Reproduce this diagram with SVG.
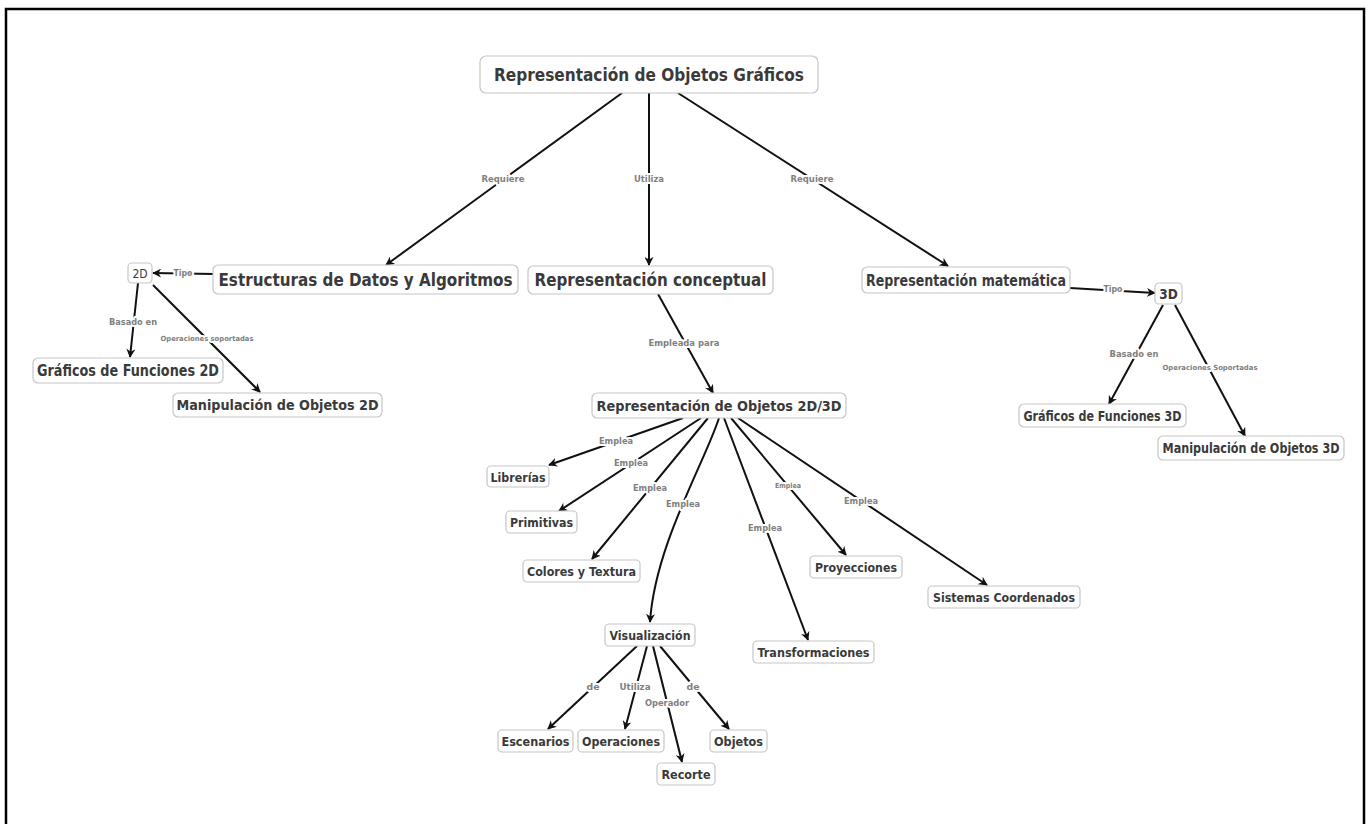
<svg xmlns="http://www.w3.org/2000/svg" width="1366" height="824" viewBox="0 0 1366 824">
<defs>
<marker id="ah" viewBox="0 0 10 10" refX="9" refY="5" markerWidth="9" markerHeight="9" markerUnits="userSpaceOnUse" orient="auto">
<path d="M0,0 L10,5 L0,10 L3,5 Z" fill="#111"/>
</marker>
<style>
.n rect{fill:#fff;stroke:#c6c6c6;stroke-width:1.2}
.n text{font-family:"DejaVu Sans Condensed","DejaVu Sans",Verdana,sans-serif;font-weight:bold;fill:#3a3a3a;text-anchor:middle}
.c path{fill:none;stroke:#111;stroke-width:2;marker-end:url(#ah)}
.l{font-family:"DejaVu Sans Condensed","DejaVu Sans",Verdana,sans-serif;font-weight:bold;fill:#808080;text-anchor:middle;paint-order:stroke;stroke:#fff;stroke-width:4px;stroke-linejoin:round}
</style>
</defs>
<rect x="0" y="0" width="1366" height="824" fill="#fff"/>
<rect x="6" y="9" width="1358" height="840" fill="none" stroke="#000" stroke-width="2.5"/>

<g id="connectors" class="c">
<path d="M622,93 L386,265"/>
<path d="M649,93 L649,265"/>
<path d="M678,93 L948,266"/>
<path d="M214,274 L153,273"/>
<path d="M138,283 L130,357"/>
<path d="M153,285 L260,392"/>
<path d="M658,294 L713,393"/>
<path d="M1070,288 L1155,293"/>
<path d="M1163,305 L1109,404"/>
<path d="M1175,305 L1245,436"/>
<path d="M683,418 L549,465"/>
<path d="M701,418 L559,511"/>
<path d="M708,418 L592,559"/>
<path d="M719,418 C705,462 655,545 650,622"/>
<path d="M724,418 L808,640"/>
<path d="M731,418 L846,555"/>
<path d="M738,418 L987,585"/>
<path d="M637,646 L548,729"/>
<path d="M647,646 L625,729"/>
<path d="M653,646 L682,762"/>
<path d="M660,646 L729,729"/>
</g>
<g id="labels">
<text class="l" x="503" y="182" font-size="9.5" textLength="43" lengthAdjust="spacingAndGlyphs">Requiere</text>
<text class="l" x="649" y="182" font-size="9.5" textLength="30" lengthAdjust="spacingAndGlyphs">Utiliza</text>
<text class="l" x="812" y="182" font-size="9.5" textLength="43" lengthAdjust="spacingAndGlyphs">Requiere</text>
<text class="l" x="183" y="276" font-size="8.5" textLength="19" lengthAdjust="spacingAndGlyphs">Tipo</text>
<text class="l" x="133" y="325" font-size="9.5" textLength="48" lengthAdjust="spacingAndGlyphs">Basado en</text>
<text class="l" x="207" y="341" font-size="7" textLength="93" lengthAdjust="spacingAndGlyphs">Operaciones soportadas</text>
<text class="l" x="684" y="346" font-size="9.5" textLength="71" lengthAdjust="spacingAndGlyphs">Empleada para</text>
<text class="l" x="1113" y="292" font-size="8.5" textLength="19" lengthAdjust="spacingAndGlyphs">Tipo</text>
<text class="l" x="1134" y="357" font-size="9.5" textLength="49" lengthAdjust="spacingAndGlyphs">Basado en</text>
<text class="l" x="1210" y="370" font-size="7" textLength="95" lengthAdjust="spacingAndGlyphs">Operaciones Soportadas</text>
<text class="l" x="616" y="444" font-size="9.5" textLength="34" lengthAdjust="spacingAndGlyphs">Emplea</text>
<text class="l" x="631" y="466" font-size="9.5" textLength="34" lengthAdjust="spacingAndGlyphs">Emplea</text>
<text class="l" x="650" y="491" font-size="9.5" textLength="34" lengthAdjust="spacingAndGlyphs">Emplea</text>
<text class="l" x="683" y="507" font-size="9.5" textLength="34" lengthAdjust="spacingAndGlyphs">Emplea</text>
<text class="l" x="765" y="531" font-size="9.5" textLength="34" lengthAdjust="spacingAndGlyphs">Emplea</text>
<text class="l" x="788" y="488" font-size="7" textLength="26" lengthAdjust="spacingAndGlyphs">Emplea</text>
<text class="l" x="861" y="504" font-size="9.5" textLength="34" lengthAdjust="spacingAndGlyphs">Emplea</text>
<text class="l" x="593" y="690" font-size="9.5" textLength="13" lengthAdjust="spacingAndGlyphs">de</text>
<text class="l" x="635" y="690" font-size="9.5" textLength="31" lengthAdjust="spacingAndGlyphs">Utiliza</text>
<text class="l" x="667" y="706" font-size="9.5" textLength="44" lengthAdjust="spacingAndGlyphs">Operador</text>
<text class="l" x="693" y="690" font-size="9.5" textLength="13" lengthAdjust="spacingAndGlyphs">de</text>
</g>

<g id="n0" class="n"><rect x="480" y="56" width="338" height="37" rx="6"/><text x="649" y="81" font-size="18" textLength="310" lengthAdjust="spacingAndGlyphs">Representación de Objetos Gráficos</text></g>
<g id="n1" class="n"><rect x="213" y="265" width="305" height="29" rx="5"/><text x="365.5" y="285.5" font-size="17.5" textLength="294" lengthAdjust="spacingAndGlyphs">Estructuras de Datos y Algoritmos</text></g>
<g id="n2" class="n"><rect x="528" y="266" width="245" height="28" rx="5"/><text x="650.5" y="286" font-size="17.5" textLength="232" lengthAdjust="spacingAndGlyphs">Representación conceptual</text></g>
<g id="n3" class="n"><rect x="862" y="267" width="208" height="26" rx="5"/><text x="966" y="285.5" font-size="15" textLength="200" lengthAdjust="spacingAndGlyphs">Representación matemática</text></g>
<g id="n4" class="n"><rect x="128" y="263" width="24" height="20" rx="4"/><text x="140" y="277.5" font-size="12" style="font-weight:normal">2D</text></g>
<g id="n5" class="n"><rect x="1155" y="283" width="27" height="21" rx="4"/><text x="1168.5" y="298.5" font-size="13.5">3D</text></g>
<g id="n6" class="n"><rect x="33" y="358" width="190" height="25" rx="5"/><text x="128" y="376" font-size="15" textLength="182" lengthAdjust="spacingAndGlyphs">Gráficos de Funciones 2D</text></g>
<g id="n7" class="n"><rect x="173" y="393" width="209" height="24" rx="5"/><text x="277.5" y="410" font-size="14" textLength="202" lengthAdjust="spacingAndGlyphs">Manipulación de Objetos 2D</text></g>
<g id="n8" class="n"><rect x="1019" y="404" width="167" height="23" rx="5"/><text x="1102.5" y="420.5" font-size="13.5" textLength="158" lengthAdjust="spacingAndGlyphs">Gráficos de Funciones 3D</text></g>
<g id="n9" class="n"><rect x="1158" y="436" width="186" height="24" rx="5"/><text x="1251" y="453" font-size="13.5" textLength="177" lengthAdjust="spacingAndGlyphs">Manipulación de Objetos 3D</text></g>
<g id="n10" class="n"><rect x="592" y="393" width="254" height="25" rx="5"/><text x="719" y="410.5" font-size="14.5" textLength="245" lengthAdjust="spacingAndGlyphs">Representación de Objetos 2D/3D</text></g>
<g id="n11" class="n"><rect x="487" y="466" width="62" height="21" rx="4"/><text x="518" y="481.5" font-size="13" textLength="55" lengthAdjust="spacingAndGlyphs">Librerías</text></g>
<g id="n12" class="n"><rect x="506" y="511" width="71" height="22" rx="4"/><text x="541.5" y="526.5" font-size="13" textLength="63" lengthAdjust="spacingAndGlyphs">Primitivas</text></g>
<g id="n13" class="n"><rect x="523" y="560" width="117" height="22" rx="4"/><text x="581.5" y="575.5" font-size="13" textLength="109" lengthAdjust="spacingAndGlyphs">Colores y Textura</text></g>
<g id="n14" class="n"><rect x="605" y="624" width="90" height="22" rx="4"/><text x="650" y="639.5" font-size="13" textLength="81" lengthAdjust="spacingAndGlyphs">Visualización</text></g>
<g id="n15" class="n"><rect x="753" y="641" width="121" height="22" rx="4"/><text x="813.5" y="656.5" font-size="13" textLength="112" lengthAdjust="spacingAndGlyphs">Transformaciones</text></g>
<g id="n16" class="n"><rect x="810" y="556" width="92" height="22" rx="4"/><text x="856" y="571.5" font-size="13" textLength="82" lengthAdjust="spacingAndGlyphs">Proyecciones</text></g>
<g id="n17" class="n"><rect x="928" y="586" width="152" height="22" rx="4"/><text x="1004" y="601.5" font-size="13" textLength="142" lengthAdjust="spacingAndGlyphs">Sistemas Coordenados</text></g>
<g id="n18" class="n"><rect x="498" y="730" width="75" height="22" rx="4"/><text x="535.5" y="745.5" font-size="13" textLength="68" lengthAdjust="spacingAndGlyphs">Escenarios</text></g>
<g id="n19" class="n"><rect x="578" y="730" width="86" height="22" rx="4"/><text x="621" y="745.5" font-size="13" textLength="78" lengthAdjust="spacingAndGlyphs">Operaciones</text></g>
<g id="n20" class="n"><rect x="710" y="730" width="57" height="22" rx="4"/><text x="738.5" y="745.5" font-size="13" textLength="49" lengthAdjust="spacingAndGlyphs">Objetos</text></g>
<g id="n21" class="n"><rect x="657" y="763" width="58" height="22" rx="4"/><text x="686" y="778.5" font-size="13" textLength="49" lengthAdjust="spacingAndGlyphs">Recorte</text></g>
</svg>
